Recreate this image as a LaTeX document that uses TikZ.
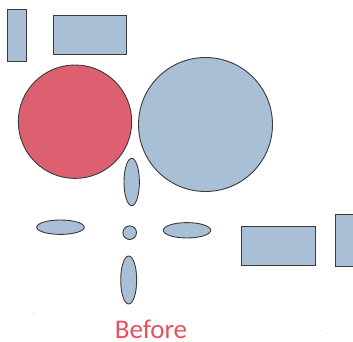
\documentclass[tikz,border=0pt]{standalone}
\usepackage{fontspec}
\setmainfont{Carlito}
\usetikzlibrary{shapes.geometric}
\definecolor{shapeblue}{HTML}{A9BFD6}
\definecolor{shapered}{HTML}{DD6070}
\definecolor{textred}{HTML}{E8505C}
\definecolor{edge}{HTML}{3A3A3A}
\begin{document}
\begin{tikzpicture}[x=1pt,y=-1pt,
  blueshape/.style={fill=shapeblue,draw=edge,line width=0.9pt},
  redshape/.style={fill=shapered,draw=edge,line width=0.9pt}]
\useasboundingbox (0,0) rectangle (353,342);
\path[blueshape] (7,9.5) rectangle (26.5,61.5);
\path[blueshape] (53,15) rectangle (126,54);
\path[redshape] (75,121.7) circle (56.7);
\path[blueshape] (205.5,124.5) circle (67);
\path[blueshape] (131.7,182) ellipse (7.7 and 23.7);
\path[blueshape] (60.5,227.2) ellipse (23.8 and 7.2);
\path[blueshape] (129.7,232.7) circle (6.8);
\path[blueshape] (187,230.3) ellipse (23.7 and 7.7);
\path[blueshape] (128.7,280) ellipse (8 and 24);
\path[blueshape] (241,226) rectangle (315,265);
\path[blueshape] (335,214) rectangle (365,266);
\node[text=textred,font=\fontsize{27}{30}\selectfont,anchor=base,inner sep=0pt] (before) at (151,338.3) {Before};
\fill[textred!40] (33.5,313.5) circle (0.6);
\fill[textred!40] (325.5,333.5) circle (0.6);
\end{tikzpicture}
\end{document}
